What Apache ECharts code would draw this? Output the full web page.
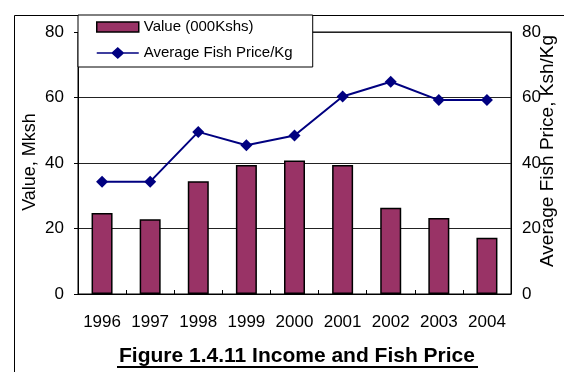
<!DOCTYPE html>
<html>
<head>
<meta charset="utf-8">
<script src="https://cdn.jsdelivr.net/npm/echarts@6/dist/echarts.min.js"></script>
<style>
  html, body { margin: 0; padding: 0; background: #fff; }
  #chart { width: 564px; height: 372px; }
</style>
</head>
<body>
<div id="chart"></div>
<script>
// Years on the category axis
const years = ['1996', '1997', '1998', '1999', '2000', '2001', '2002', '2003', '2004'];
// Income value (000 Kshs), plotted against the left axis
const incomeValues = [24.7, 22.8, 34.4, 39.4, 40.8, 39.4, 26.3, 23.2, 17.2];
// Average fish price per kg, plotted against the right axis
const fishPrice = [34.3, 34.3, 49.5, 45.4, 48.4, 60.3, 64.8, 59.2, 59.2];
// Shared tick range for both value axes
const axisMin = 0, axisMax = 80, axisStep = 20;

const font = 'Arial, "Liberation Sans", sans-serif';

// legend glyph for the price series: a line with a diamond in the middle
const lineDiamondIcon = 'path://M0,5L42,5M21,0L26.5,5L21,10L15.5,5Z';

const chart = echarts.init(document.getElementById('chart'), null, { renderer: 'canvas' });

chart.setOption({
  animation: false,
  backgroundColor: '#fff',
  grid: {
    left: 78, right: 53, top: 32, bottom: 78,
    show: true, borderColor: '#000', borderWidth: 1, backgroundColor: 'transparent'
  },
  legend: {
    left: 78, top: 15,
    orient: 'vertical',
    backgroundColor: '#fff',
    borderColor: '#000',
    borderWidth: 1,
    borderRadius: 0,
    padding: [4, 20, 6, 18],
    itemGap: 10,
    itemWidth: 42,
    itemHeight: 10,
    textStyle: { fontFamily: font, fontSize: 15, color: '#000', lineHeight: 16 },
    data: [
      { name: 'Value (000Kshs)', icon: 'rect',
        itemStyle: { color: '#993366', borderColor: '#000', borderWidth: 1.5 } },
      { name: 'Average Fish Price/Kg', icon: lineDiamondIcon,
        itemStyle: { color: '#000080', borderColor: '#000080', borderWidth: 1.5 } }
    ],
    z: 10
  },
  xAxis: {
    type: 'category',
    data: years,
    axisLine: { lineStyle: { color: '#000', width: 1 } },
    axisTick: { show: true, inside: true, length: 4, lineStyle: { color: '#000' } },
    axisLabel: { interval: 0, fontFamily: font, fontSize: 17, color: '#000', margin: 20 }
  },
  yAxis: [
    {
      type: 'value', min: axisMin, max: axisMax, interval: axisStep,
      axisLine: { show: true, lineStyle: { color: '#000' } },
      axisTick: { show: true, length: 4, lineStyle: { color: '#000' } },
      axisLabel: { fontFamily: font, fontSize: 17, color: '#000', margin: 14 },
      splitLine: { show: true, lineStyle: { color: '#222', width: 1 } }
    },
    {
      type: 'value', min: axisMin, max: axisMax, interval: axisStep,
      position: 'right',
      axisLine: { show: true, lineStyle: { color: '#000' } },
      axisTick: { show: false },
      axisLabel: { fontFamily: font, fontSize: 17, color: '#000', margin: 11 },
      splitLine: { show: false }
    }
  ],
  series: [
    {
      name: 'Value (000Kshs)',
      type: 'bar',
      yAxisIndex: 0,
      data: incomeValues,
      barWidth: 21,
      itemStyle: { color: '#993366', borderColor: '#000', borderWidth: 1.5 },
      z: 2
    },
    {
      name: 'Average Fish Price/Kg',
      type: 'line',
      yAxisIndex: 1,
      data: fishPrice,
      symbol: 'diamond',
      symbolSize: 12,
      lineStyle: { color: '#000080', width: 2 },
      itemStyle: { color: '#000080' },
      z: 3
    }
  ],
  graphic: [
    // outer chart frame
    { type: 'rect', shape: { x: 14.5, y: 15.5, width: 600, height: 400 },
      style: { fill: 'none', stroke: '#000', lineWidth: 1 }, z: 0, silent: true },
    // left axis title
    { type: 'text', x: 30, y: 162, rotation: Math.PI / 2,
      style: { text: 'Value, Mksh', fontFamily: font, fontSize: 18, fill: '#000',
               align: 'center', verticalAlign: 'middle' } },
    // right axis title
    { type: 'text', x: 548, y: 151, rotation: Math.PI / 2,
      style: { text: 'Average Fish Price, Ksh/Kg', fontFamily: font, fontSize: 19, fill: '#000',
               align: 'center', verticalAlign: 'middle' } },
    // figure caption
    { type: 'text', x: 297, y: 356,
      style: { text: 'Figure 1.4.11 Income and Fish Price', fontFamily: font, fontSize: 21,
               fontWeight: 'bold', fill: '#000', align: 'center', verticalAlign: 'middle' } },
    { type: 'line', shape: { x1: 117, y1: 367, x2: 478, y2: 367 },
      style: { stroke: '#000', lineWidth: 2 } }
  ]
});
</script>
</body>
</html>
